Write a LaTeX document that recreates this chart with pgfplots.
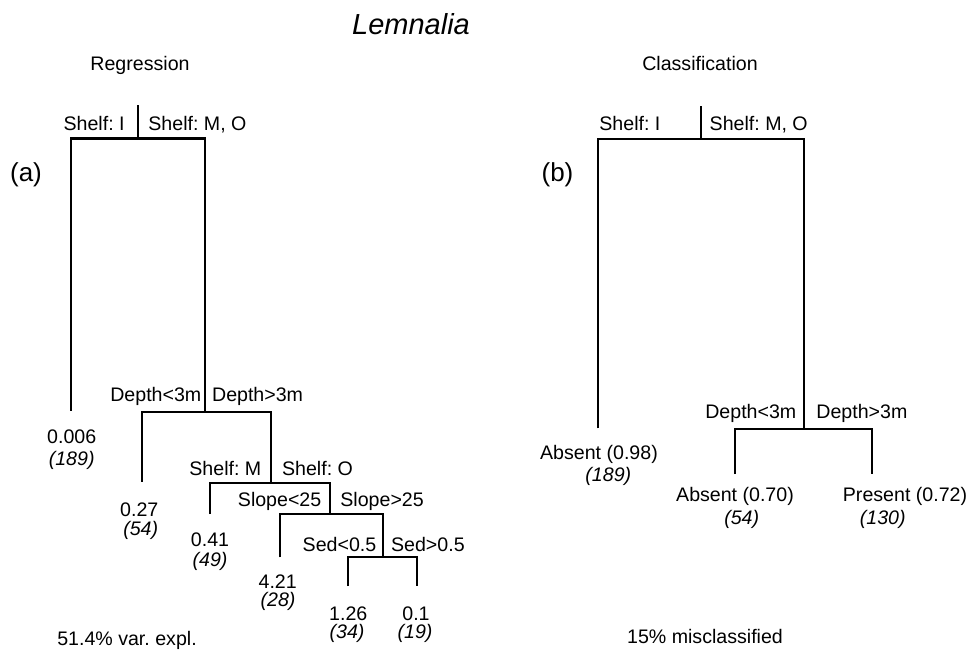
\documentclass[border=0pt]{standalone}
\usepackage{fontspec}
\setmainfont{Liberation Sans}
\usepackage{pgfplots}
\pgfplotsset{compat=1.18}
\frenchspacing
\tikzset{
  lab/.style={font=\fontsize{9.8}{11}\selectfont, inner sep=0pt},
  leafn/.style={font=\fontsize{9.8}{11}\selectfont\itshape, inner sep=0pt, anchor=base},
  br/.style={black, solid, line width=1.15pt, line join=miter, mark=none},
}
\begin{document}
\begin{tikzpicture}
\begin{axis}[
  scale only axis, width=484pt, height=325pt,
  xmin=0, xmax=968, ymin=0, ymax=650, y dir=reverse,
  hide axis, clip=false,
]
\draw[draw=none] (rel axis cs:0,0) rectangle (rel axis cs:1,1);
% ---------- Regression tree ----------
\addplot[br] coordinates {(137.7,105) (137.7,138.5)};
\addplot[br] coordinates {(71,410.7) (71,138.5) (205.3,138.5) (205.3,411.7)};
\addplot[br] coordinates {(141.7,481.7) (141.7,411.7) (271,411.7) (271,483.3)};
\addplot[br] coordinates {(210,514) (210,483.3) (330,483.3) (330,514)};
\addplot[br] coordinates {(280,557.3) (280,514) (382.7,514) (382.7,557.3)};
\addplot[br] coordinates {(348.3,586) (348.3,557.3) (417.3,557.3) (417.3,586)};
% ---------- Classification tree ----------
\addplot[br] coordinates {(701,106) (701,139.3)};
\addplot[br] coordinates {(598.3,428.3) (598.3,139.3) (804,139.3) (804,429)};
\addplot[br] coordinates {(735,474) (735,429) (872.3,429) (872.3,474)};
% ---------- titles ----------
\node[inner sep=0pt, anchor=base, font=\fontsize{14.5}{16}\selectfont\itshape] at (axis cs:411,34) {Lemnalia};
\node[lab, anchor=base] at (axis cs:140,70) {Regression};
\node[lab, anchor=base] at (axis cs:700,70) {Classification};
\node[inner sep=0pt, anchor=base, font=\fontsize{13}{15}\selectfont] at (axis cs:26,181) {(a)};
\node[inner sep=0pt, anchor=base, font=\fontsize{13}{15}\selectfont] at (axis cs:557.5,181) {(b)};
% ---------- split labels (a) ----------
\node[lab, anchor=base east] at (axis cs:125,130) {Shelf: I};
\node[lab, anchor=base west] at (axis cs:148,130) {Shelf: M, O};
\node[lab, anchor=base east] at (axis cs:201.7,401.5) {Depth<3m};
\node[lab, anchor=base west] at (axis cs:211.7,401.5) {Depth>3m};
\node[lab, anchor=base east] at (axis cs:261.7,475) {Shelf: M};
\node[lab, anchor=base west] at (axis cs:281.7,475) {Shelf: O};
\node[lab, anchor=base east] at (axis cs:321.7,506.7) {Slope<25};
\node[lab, anchor=base west] at (axis cs:340,506.7) {Slope>25};
\node[lab, anchor=base east] at (axis cs:376.7,551.7) {Sed<0.5};
\node[lab, anchor=base west] at (axis cs:390.7,551.7) {Sed>0.5};
% ---------- leaves (a) ----------
\node[lab, anchor=base] at (axis cs:71.7,443.3) {0.006};
\node[leafn] at (axis cs:71.7,465) {(189)};
\node[lab, anchor=base] at (axis cs:139.3,516.7) {0.27};
\node[leafn] at (axis cs:140.7,535) {(54)};
\node[lab, anchor=base] at (axis cs:210,546.7) {0.41};
\node[leafn] at (axis cs:210,566) {(49)};
\node[lab, anchor=base] at (axis cs:277.7,588.3) {4.21};
\node[leafn] at (axis cs:278,606.7) {(28)};
\node[lab, anchor=base] at (axis cs:348.3,620) {1.26};
\node[leafn] at (axis cs:347,638.3) {(34)};
\node[lab, anchor=base] at (axis cs:416,620) {0.1};
\node[leafn] at (axis cs:415,638.3) {(19)};
\node[lab, anchor=base] at (axis cs:127,645) {51.4\% var. expl.};
% ---------- split labels (b) ----------
\node[lab, anchor=base west] at (axis cs:599,130) {Shelf: I};
\node[lab, anchor=base west] at (axis cs:709.3,130) {Shelf: M, O};
\node[lab, anchor=base east] at (axis cs:796.7,418.3) {Depth<3m};
\node[lab, anchor=base west] at (axis cs:816,418.3) {Depth>3m};
% ---------- leaves (b) ----------
\node[lab, anchor=base] at (axis cs:599,459.3) {Absent (0.98)};
\node[leafn] at (axis cs:608.3,481.7) {(189)};
\node[lab, anchor=base] at (axis cs:735,501.7) {Absent (0.70)};
\node[leafn] at (axis cs:741.7,524) {(54)};
\node[lab, anchor=base] at (axis cs:905,501.7) {Present (0.72)};
\node[leafn] at (axis cs:882.7,524) {(130)};
\node[lab, anchor=base] at (axis cs:705,643.3) {15\% misclassified};
\end{axis}
\end{tikzpicture}
\end{document}
